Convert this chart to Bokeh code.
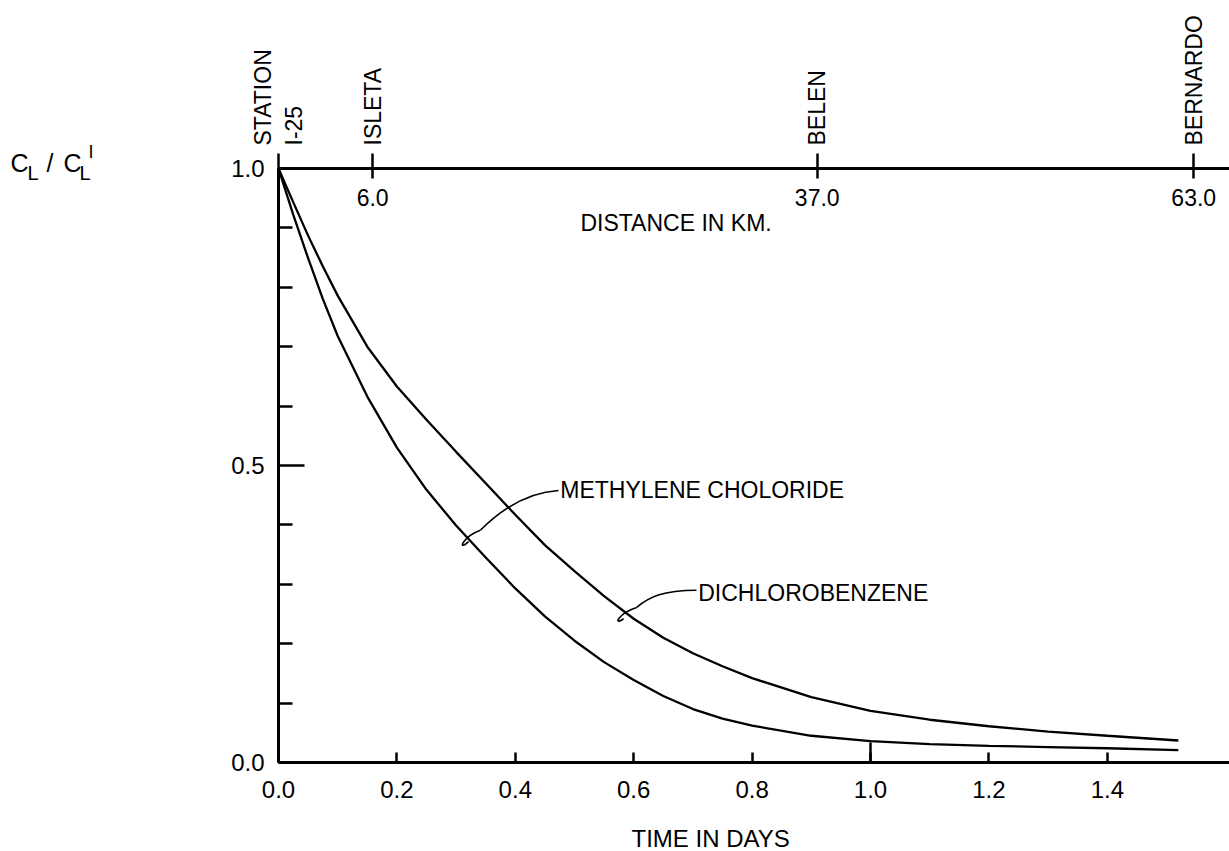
from bokeh.plotting import figure
from bokeh.models import (Range1d, LinearAxis, FixedTicker, Label,
                          PrintfTickFormatter, CustomJSTickFormatter)
from bokeh.core.properties import value
from bokeh.embed import file_html
from bokeh.resources import INLINE

# ---------------- data ----------------
# Dichlorobenzene (upper curve)
t_dcb = [0.0, 0.025, 0.05, 0.075, 0.1, 0.15, 0.2, 0.25, 0.3, 0.35, 0.4, 0.45,
         0.5, 0.55, 0.6, 0.65, 0.7, 0.75, 0.8, 0.9, 1.0, 1.1, 1.2, 1.3, 1.4, 1.52]
c_dcb = [1.0, 0.943, 0.887, 0.835, 0.786, 0.700, 0.633, 0.577, 0.523, 0.470,
         0.417, 0.366, 0.322, 0.280, 0.242, 0.210, 0.184, 0.162, 0.142, 0.110,
         0.087, 0.072, 0.061, 0.052, 0.045, 0.037]

# Methylene chloride (lower curve)
t_mc = [0.0, 0.025, 0.05, 0.075, 0.1, 0.15, 0.2, 0.25, 0.3, 0.35, 0.4, 0.45,
        0.5, 0.55, 0.6, 0.65, 0.7, 0.75, 0.8, 0.9, 1.0, 1.1, 1.2, 1.3, 1.4, 1.52]
c_mc = [1.0, 0.922, 0.849, 0.780, 0.718, 0.616, 0.530, 0.459, 0.399, 0.345,
        0.293, 0.246, 0.205, 0.169, 0.139, 0.112, 0.090, 0.074, 0.062, 0.045,
        0.036, 0.031, 0.028, 0.026, 0.024, 0.021]

# axis ticks
x_ticks = [0.0, 0.2, 0.4, 0.6, 0.8, 1.0, 1.2, 1.4]
x_long_tick = [1.0]
y_major = [0.0, 0.5, 1.0]
y_minor = [0.1, 0.2, 0.3, 0.4, 0.6, 0.7, 0.8, 0.9]

# stations on the distance axis (position expressed as travel time, days)
station_names = ["STATION\nI-25", "ISLETA", "BELEN", "BERNARDO"]
station_time = [0.0, 0.159, 0.910, 1.546]
station_km = ["", "6.0", "37.0", "63.0"]

FONT = "Liberation Sans"

# ---------------- figure ----------------
p = figure(width=1229, height=851,
           x_range=Range1d(0, 1.6064), y_range=Range1d(0, 1.0),
           output_backend="svg", toolbar_location=None,
           x_axis_location=None, y_axis_location=None,
           min_border_left=278, min_border_right=0,
           min_border_top=168, min_border_bottom=89)
p.outline_line_color = None
p.grid.visible = False
p.background_fill_color = "white"
p.border_fill_color = "white"

common = dict(axis_line_width=3, axis_line_color="black",
              major_tick_line_width=2.5, minor_tick_line_width=2.5,
              major_tick_line_color="black", minor_tick_line_color="black",
              major_label_text_font=FONT, major_label_text_font_size="24px",
              major_label_text_color="black")

left = LinearAxis(ticker=FixedTicker(ticks=y_major, minor_ticks=y_minor),
                  formatter=PrintfTickFormatter(format="%.1f"),
                  major_tick_in=26, major_tick_out=0,
                  minor_tick_in=14, minor_tick_out=0,
                  major_label_standoff=14, **common)
p.add_layout(left, "left")

bottom = LinearAxis(ticker=FixedTicker(ticks=x_ticks, minor_ticks=x_long_tick),
                    formatter=PrintfTickFormatter(format="%.1f"),
                    major_tick_in=10, major_tick_out=0,
                    minor_tick_in=20, minor_tick_out=0,
                    major_label_standoff=18, **common)
p.add_layout(bottom, "below")

top = LinearAxis(ticker=FixedTicker(ticks=station_time, minor_ticks=[]),
                 formatter=CustomJSTickFormatter(args=dict(names=station_names),
                                                 code="return names[index]"),
                 major_tick_in=10, major_tick_out=15,
                 major_label_orientation="vertical",
                 major_label_standoff=8, **common)
top.major_label_text_font_size = "23px"
p.add_layout(top, "above")

# curves
p.line(t_dcb, c_dcb, line_color="black", line_width=2.3)
p.line(t_mc, c_mc, line_color="black", line_width=2.3)

# km labels under the top axis
p.text(x=station_time[1:], y=[1.0] * 3, text=station_km[1:],
       text_font=value(FONT), text_font_size="23px", text_color="black",
       text_align="center", text_baseline="top", y_offset=20)

def lab(x, y, text, size="23px", align="left", baseline="middle", place="center"):
    p.add_layout(Label(x=x, y=y, text=text, text_font=FONT,
                       text_font_size=size, text_color="black",
                       text_align=align, text_baseline=baseline), place)

lab(0.510, 0.909, "DISTANCE IN KM.")
lab(0.476, 0.458, "METHYLENE CHOLORIDE")
lab(0.709, 0.286, "DICHLOROBENZENE")

# texts outside the frame: placed in side panels, positioned in data units
lab(0.730, -0.128, "TIME IN DAYS", size="24px", align="center", place="below")
lab(-0.4527, 1.0085, "C", size="25px", baseline="alphabetic", place="left")
lab(-0.4240, 0.9932, "L", size="20px", baseline="alphabetic", place="left")
lab(-0.3920, 1.0085, "/", size="25px", baseline="alphabetic", place="left")
lab(-0.3630, 1.0085, "C", size="25px", baseline="alphabetic", place="left")
lab(-0.3360, 0.9932, "L", size="20px", baseline="alphabetic", place="left")
lab(-0.3210, 1.0270, "I", size="18px", baseline="alphabetic", place="left")

# leader lines from the labels to the curves
p.bezier(x0=[0.473, 0.341, 0.706, 0.605], y0=[0.458, 0.391, 0.290, 0.261],
         x1=[0.341, 0.321, 0.605, 0.583], y1=[0.391, 0.372, 0.261, 0.242],
         cx0=[0.426, 0.311, 0.649, 0.574], cy0=[0.455, 0.380, 0.290, 0.251],
         cx1=[0.383, 0.301, 0.625, 0.564], cy1=[0.433, 0.354, 0.278, 0.229],
         line_color="black", line_width=1.6)

open("out.html", "w").write(file_html(p, INLINE))
